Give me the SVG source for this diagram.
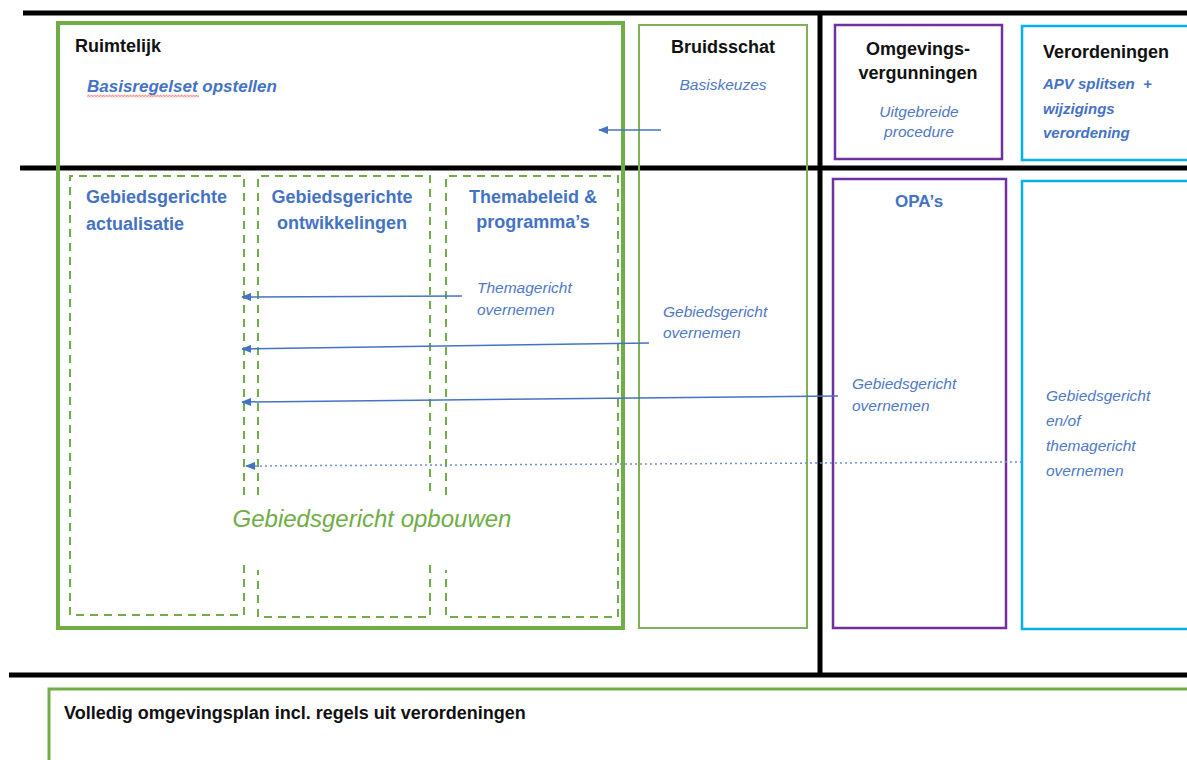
<svg xmlns="http://www.w3.org/2000/svg" width="1187" height="760" viewBox="0 0 1187 760">
<style>
.ttl{font-family:"Liberation Sans",Arial,sans-serif;font-weight:bold;font-size:18px;fill:#111}
.hb{font-family:"Liberation Sans",Arial,sans-serif;font-weight:bold;font-size:18px;fill:#4472C4}
.it{font-family:"Liberation Sans",Arial,sans-serif;font-style:italic;font-size:15.5px;fill:#4F78C6}
.bi{font-family:"Liberation Sans",Arial,sans-serif;font-style:italic;font-weight:bold;font-size:15px;fill:#4472C4}
.grn{fill:none;stroke:#70AD47}
.dash{fill:none;stroke:#70AD47;stroke-width:2;stroke-dasharray:8 6}
.blk{stroke:#000;stroke-width:5;fill:none}
.pur{fill:none;stroke:#7030A0;stroke-width:2.5}
.cya{fill:none;stroke:#00B0F0;stroke-width:2.5}
.arr{stroke:#4472C4;stroke-width:1.5;fill:none;marker-end:url(#ah)}
.mid{text-anchor:middle}
</style>
<defs>
<marker id="ah" markerWidth="10" markerHeight="8" refX="9" refY="4" orient="auto" markerUnits="userSpaceOnUse">
<path d="M0,0 L10,4 L0,8 z" fill="#4472C4"/>
</marker>
<pattern id="squig" width="3" height="3" patternUnits="userSpaceOnUse" x="87" y="94.5">
<path d="M0,2.5 L1.5,0.5 L3,2.5" fill="none" stroke="#E03030" stroke-width="0.8"/>
</pattern>
</defs>
<rect width="1187" height="760" fill="#fff"/>

<g id="grid">
<line class="blk" x1="23" y1="13" x2="1187" y2="13"/>
<line class="blk" x1="20" y1="168" x2="1187" y2="168"/>
<line class="blk" x1="820" y1="11" x2="820" y2="677"/>
<line class="blk" x1="9" y1="675" x2="1187" y2="675"/>
</g>

<g id="ruimtelijk">
<rect class="grn" x="58" y="23" width="565" height="605" stroke-width="4"/>
<text class="ttl" x="75" y="52">Ruimtelijk</text>
<text class="bi" x="87" y="92" style="font-size:17px">Basisregelset opstellen</text>
<rect x="87" y="94.5" width="112" height="3" fill="url(#squig)"/>
<text x="372" y="527" class="mid" style="font-family:'Liberation Sans',Arial,sans-serif;font-style:italic;font-size:24px;fill:#70AD47">Gebiedsgericht opbouwen</text>
</g>

<g id="actualisatie">
<path class="dash" d="M244,495 V176 H70 V615 H244 V565"/>
<text class="hb" x="86" y="203">Gebiedsgerichte</text>
<text class="hb" x="86" y="230">actualisatie</text>
</g>

<g id="ontwikkelingen">
<path class="dash" d="M258,495 V176 H430 V495 M430,565 V617 H258 V570"/>
<text class="hb mid" x="342" y="203">Gebiedsgerichte</text>
<text class="hb mid" x="342" y="229">ontwikkelingen</text>
</g>

<g id="themabeleid">
<path class="dash" d="M446,495 V176 H618 V617 H446 V570"/>
<text class="hb mid" x="533" y="203">Themabeleid &amp;</text>
<text class="hb mid" x="533" y="228">programma’s</text>
<text class="it" x="477" y="293">Themagericht</text>
<text class="it" x="477" y="315">overnemen</text>
</g>

<g id="bruidsschat">
<rect class="grn" x="639" y="25" width="168" height="603" stroke-width="2" style="stroke:#7DB356"/>
<text class="ttl mid" x="723" y="53">Bruidsschat</text>
<text class="it mid" x="723" y="90">Basiskeuzes</text>
<text class="it" x="663" y="317">Gebiedsgericht</text>
<text class="it" x="663" y="338">overnemen</text>
</g>

<g id="omgevingsvergunningen">
<rect class="pur" x="835" y="25" width="167" height="134"/>
<text class="ttl mid" x="918" y="55">Omgevings-</text>
<text class="ttl mid" x="918" y="79">vergunningen</text>
<text class="it mid" x="919" y="117">Uitgebreide</text>
<text class="it mid" x="919" y="137">procedure</text>
</g>

<g id="verordeningen">
<rect class="cya" x="1022" y="26" width="180" height="134"/>
<text class="ttl" x="1043" y="58">Verordeningen</text>
<text class="bi" x="1043" y="89" style="white-space:pre" xml:space="preserve">APV splitsen  +</text>
<text class="bi" x="1043" y="114">wijzigings</text>
<text class="bi" x="1043" y="138">verordening</text>
</g>

<g id="opas">
<rect class="pur" x="833" y="179" width="173" height="449"/>
<text class="hb mid" x="919" y="207" style="font-size:17px">OPA’s</text>
<text class="it" x="852" y="389">Gebiedsgericht</text>
<text class="it" x="852" y="411">overnemen</text>
</g>

<g id="verordeningen-onder">
<rect class="cya" x="1022" y="181" width="180" height="448"/>
<text class="it" x="1046" y="401">Gebiedsgericht</text>
<text class="it" x="1046" y="426">en/of</text>
<text class="it" x="1046" y="451">themagericht</text>
<text class="it" x="1046" y="476">overnemen</text>
</g>

<g id="omgevingsplan">
<rect class="grn" x="49" y="689" width="1160" height="90" stroke-width="3"/>
<text class="ttl" x="64" y="719">Volledig omgevingsplan incl. regels uit verordeningen</text>
</g>

<g id="connectors">
<line class="arr" x1="661" y1="130" x2="599" y2="130"/>
<line class="arr" x1="462" y1="296" x2="242" y2="297"/>
<line class="arr" x1="649" y1="343" x2="242" y2="349"/>
<line class="arr" x1="838" y1="396" x2="242" y2="402"/>
<line class="arr" x1="1022" y1="462" x2="246" y2="466" style="stroke:#6F8FD0;stroke-dasharray:2 3"/>
</g>
</svg>
